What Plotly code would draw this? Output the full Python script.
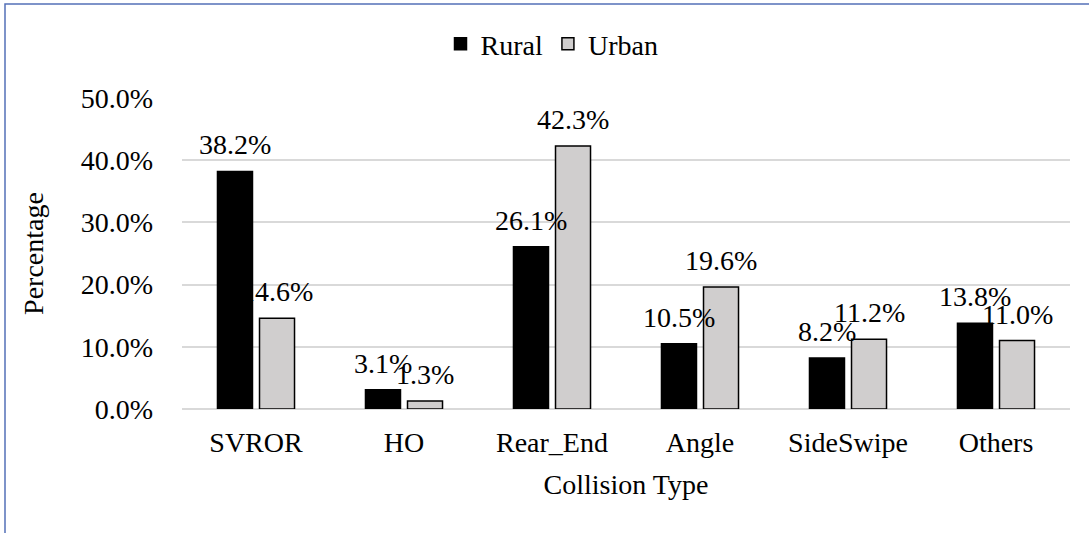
import plotly.graph_objects as go

categories = ["SVROR", "HO", "Rear_End", "Angle", "SideSwipe", "Others"]
rural = [38.2, 3.1, 26.1, 10.5, 8.2, 13.8]
urban = [14.6, 1.3, 42.3, 19.6, 11.2, 11.0]
y_ticks = [0, 10, 20, 30, 40, 50]
y_tick_labels = ["0.0%", "10.0%", "20.0%", "30.0%", "40.0%", "50.0%"]

FONT = "Liberation Serif"
FS = 28

fig = go.Figure()
fig.add_trace(go.Bar(
    name="Rural", x=categories, y=rural,
    marker=dict(color="#000000", line=dict(color="#000000", width=1.5)),
))
fig.add_trace(go.Bar(
    name="Urban", x=categories, y=urban,
    marker=dict(color="#D0CECE", line=dict(color="#000000", width=1.5)),
))

L, R, T, B = 182, 19, 98, 124
W, H = 1089, 533
pw, ph = W - L - R, H - T - B

def px_x(p):
    return (p - L) / pw

def px_y(p):
    return (H - B - p) / ph

BARGAP = 0.432
slot_px = pw / len(categories) * (1 - BARGAP) / 2

annotations = []
for series, sign in ((rural, -1), (urban, 1)):
    for cat, v in zip(categories, series):
        annotations.append(dict(
            x=cat, y=v, xref="x", yref="y", text=f"{v:.1f}%", showarrow=False,
            xanchor="center", yanchor="bottom", xshift=sign * slot_px / 2, yshift=9,
            font=dict(family=FONT, size=FS, color="#000000"),
        ))

fig.update_layout(
    width=W, height=H,
    margin=dict(l=L, r=R, t=T, b=B, autoexpand=False),
    paper_bgcolor="white", plot_bgcolor="white",
    font=dict(family=FONT, size=FS, color="#000000"),
    barmode="group", bargap=BARGAP, bargroupgap=0.167,
    showlegend=True,
    legend=dict(orientation="h", x=px_x(552), xanchor="center", y=px_y(44), yanchor="middle",
                font=dict(family=FONT, size=FS), itemwidth=30, traceorder="normal",
                bgcolor="rgba(0,0,0,0)"),
    xaxis=dict(
        title=dict(text="Collision Type", font=dict(family=FONT, size=FS), standoff=17),
        showgrid=False, showline=False, zeroline=False, ticks="",
        ticklabelstandoff=14,
        tickfont=dict(family=FONT, size=FS),
    ),
    yaxis=dict(
        title=dict(text="Percentage", font=dict(family=FONT, size=FS), standoff=28),
        range=[0, 50], tickvals=y_ticks, ticktext=y_tick_labels,
        showgrid=True, gridcolor="#D9D9D9", gridwidth=1.5,
        zeroline=True, zerolinecolor="#D9D9D9", zerolinewidth=1.5,
        showline=False, ticks="", ticklabelstandoff=28,
        tickfont=dict(family=FONT, size=FS),
    ),
    annotations=annotations,
    shapes=[dict(
        type="rect", xref="paper", yref="paper",
        x0=px_x(5), x1=px_x(1100), y0=px_y(545), y1=px_y(4),
        line=dict(color="#5470B8", width=1.5), fillcolor="rgba(0,0,0,0)", layer="above",
    )],
)

fig.write_html("out.html", config={"displayModeBar": False},
               post_script="document.body.style.margin='0';")
